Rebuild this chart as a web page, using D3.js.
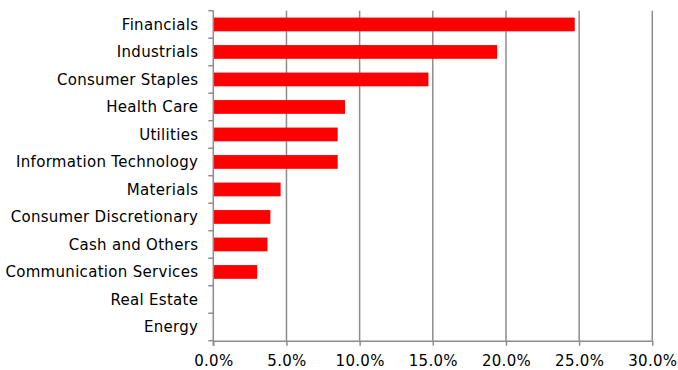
<!DOCTYPE html>
<html>
<head>
<meta charset="utf-8">
<script src="https://cdn.jsdelivr.net/npm/d3@7"></script>
<style>
html,body{margin:0;padding:0;background:#fff;}
svg{display:block;}
</style>
</head>
<body>
<svg id="chart" width="678" height="370"></svg>
<script>
const categories = ["Financials","Industrials","Consumer Staples","Health Care","Utilities","Information Technology","Materials","Consumer Discretionary","Cash and Others","Communication Services","Real Estate","Energy"];
const values = [24.7, 19.4, 14.7, 9.0, 8.5, 8.5, 4.6, 3.9, 3.7, 3.0, 0, 0];
const xTicks = [0, 5, 10, 15, 20, 25, 30];

const svg = d3.select("#chart");
const margin = {left: 213.3, right: 678 - 652.3, top: 10.7, bottom: 370 - 340.7};
const W = 678, H = 370;
const x = d3.scaleLinear().domain([0, 30]).range([margin.left, W - margin.right]);
const y = d3.scaleBand().domain(categories).range([margin.top, H - margin.bottom]).paddingInner(0.5).paddingOuter(0.25);
const yEdge = d3.scaleBand().domain(categories).range([margin.top, H - margin.bottom]);

const font = "DejaVu Sans, Verdana, sans-serif";
const grey = "#8c8c8c";

// gridlines
svg.append("g").selectAll("line").data(xTicks.slice(1)).join("line")
  .attr("x1", d => x(d)).attr("x2", d => x(d))
  .attr("y1", margin.top).attr("y2", H - margin.bottom)
  .attr("stroke", grey).attr("stroke-width", 1.5);

// bars
svg.append("g").selectAll("rect").data(categories).join("rect")
  .attr("x", x(0))
  .attr("y", d => y(d))
  .attr("width", (d, i) => x(values[i]) - x(0))
  .attr("height", y.bandwidth())
  .attr("fill", "#ff0000");

// bottom axis
const xAxis = d3.axisBottom(x).tickValues(xTicks).tickSize(5).tickSizeOuter(0)
  .tickFormat(d => d.toFixed(1) + "%");
const gx = svg.append("g").attr("transform", `translate(0,${H - margin.bottom})`).call(xAxis);
gx.select(".domain").attr("stroke", grey).attr("stroke-width", 1.5);
gx.selectAll(".tick line").attr("stroke", grey).attr("stroke-width", 1.5);
gx.selectAll(".tick text").attr("font-family", font).attr("font-size", 15).attr("fill", "#000")
  .attr("y", 25).attr("dy", 0).attr("letter-spacing", 0.3);

// left axis
const gy = svg.append("g");
gy.append("line").attr("x1", x(0)).attr("x2", x(0)).attr("y1", margin.top).attr("y2", H - margin.bottom + 5)
  .attr("stroke", grey).attr("stroke-width", 1.5);
const edges = categories.map(c => yEdge(c)).concat([H - margin.bottom]);
gy.selectAll("line.tk").data(edges).join("line").attr("class", "tk")
  .attr("x1", x(0) - 5).attr("x2", x(0)).attr("y1", d => d).attr("y2", d => d)
  .attr("stroke", grey).attr("stroke-width", 1.5);
gy.selectAll("text").data(categories).join("text")
  .attr("x", x(0) - 15)
  .attr("y", d => yEdge(d) + yEdge.bandwidth() / 2)
  .attr("dy", "0.36em")
  .attr("text-anchor", "end")
  .attr("letter-spacing", 0.3)
  .attr("font-family", font).attr("font-size", 15).attr("fill", "#000")
  .text(d => d);
</script>
</body>
</html>
